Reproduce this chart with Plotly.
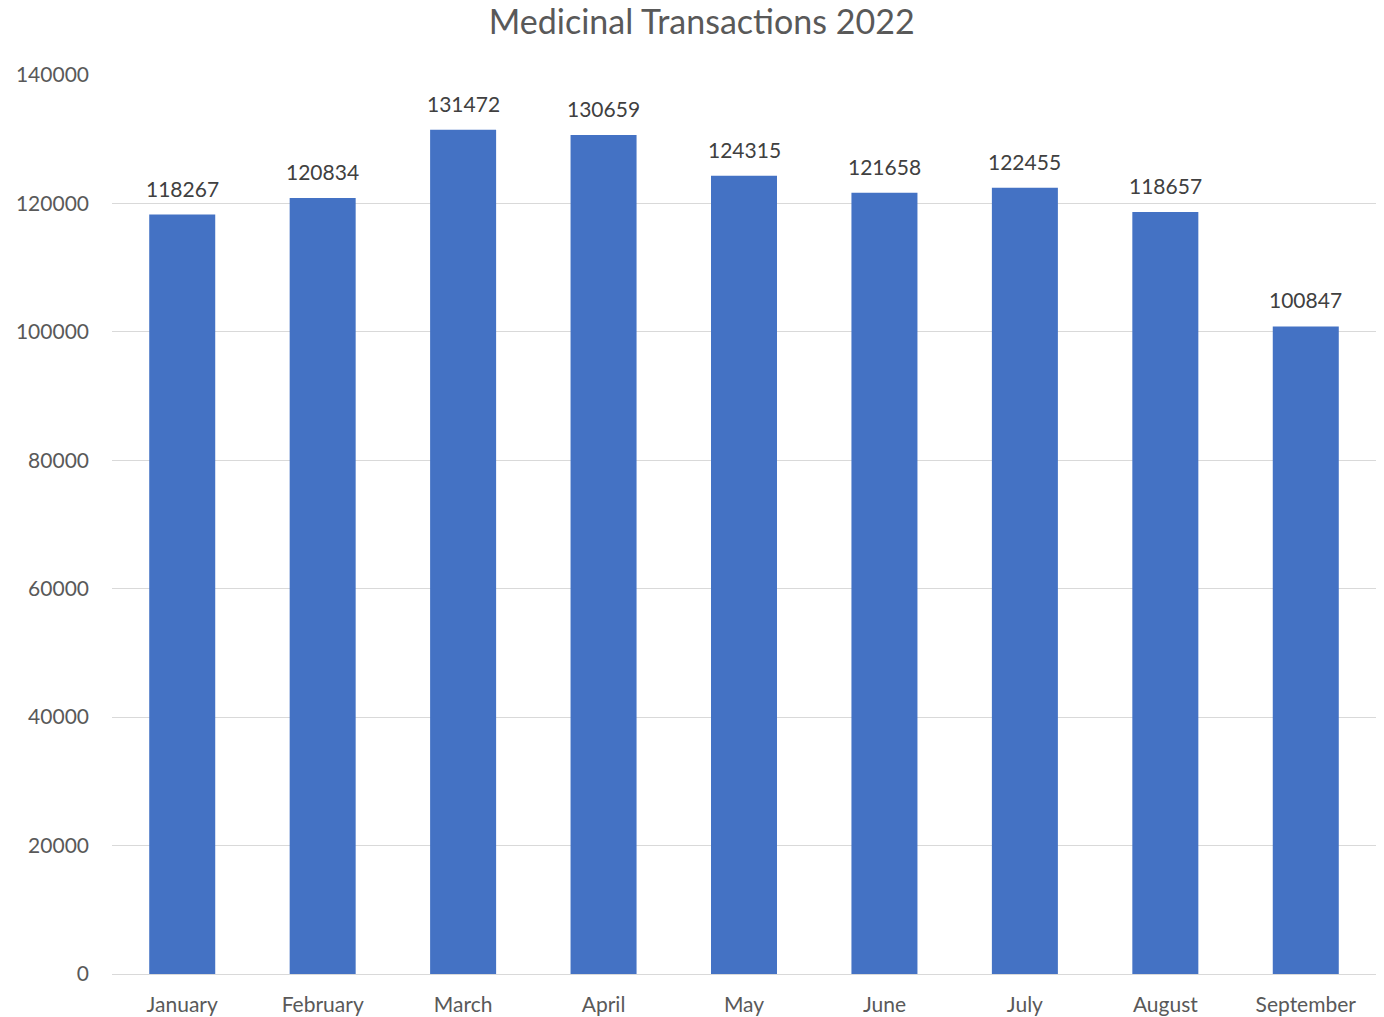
import plotly.graph_objects as go

months = ["January", "February", "March", "April", "May", "June", "July", "August", "September"]
transactions = [118267, 120834, 131472, 130659, 124315, 121658, 122455, 118657, 100847]

fig = go.Figure()

fig.add_trace(go.Bar(x=months, y=transactions, marker=dict(color="#4472C4", line=dict(width=0)),
                     width=0.47))

# value labels above each bar
for m, v in zip(months, transactions):
    fig.add_annotation(x=m, y=v, text=str(v), showarrow=False, yanchor="bottom", yshift=12,
                       font=dict(color="#404040", size=21))

fig.update_layout(
    width=1384, height=1017,
    margin=dict(l=112, r=8, t=75, b=43, autoexpand=False),
    paper_bgcolor="white", plot_bgcolor="white",
    font=dict(family="Lato, Open Sans, sans-serif", color="#595959", size=21),
    title=dict(text="Medicinal Transactions 2022", x=0.507, xanchor="center", y=0.978, yanchor="middle",
               font=dict(size=34, color="#595959")),
    showlegend=False,
)

fig.update_yaxes(range=[0, 140000], dtick=20000, tickformat="d", showgrid=True, gridcolor="#D9D9D9",
                 gridwidth=1.3, zeroline=True, zerolinecolor="#D9D9D9", zerolinewidth=1.3, ticks="",
                 ticklabelstandoff=22, tickfont=dict(size=21, color="#595959"), showline=False,
                 automargin=False)
fig.update_xaxes(showline=False, ticks="", tickfont=dict(size=21, color="#595959"), ticklabelstandoff=16,
                 automargin=False)

# drop the page's default body margin so the figure fills the window
fig.write_html("out.html", config={"displayModeBar": False},
               post_script="document.body.style.margin='0';")
